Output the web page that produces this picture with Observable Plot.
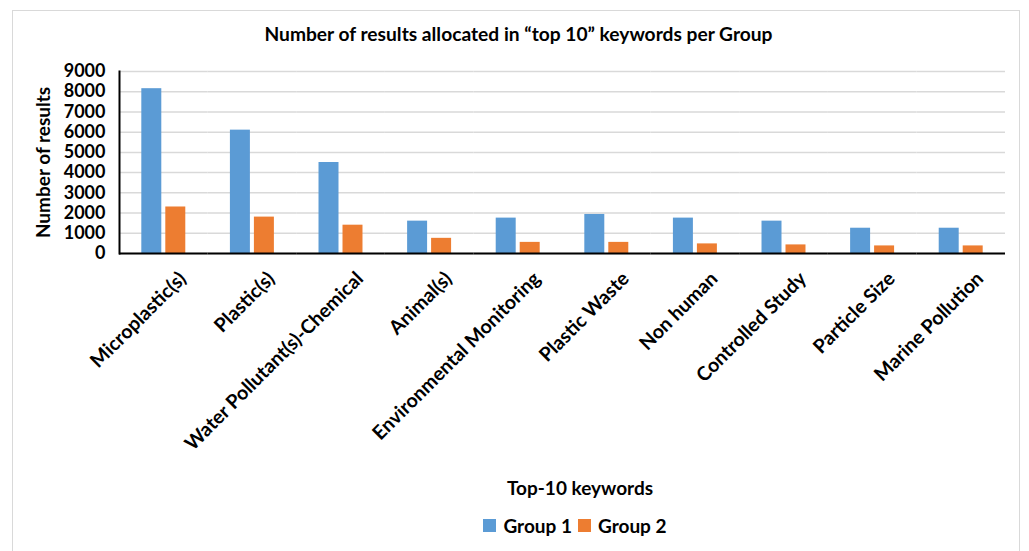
<!DOCTYPE html>
<html>
<head>
<meta charset="utf-8">
<script src="https://cdn.jsdelivr.net/npm/d3@7"></script>
<script src="https://cdn.jsdelivr.net/npm/@observablehq/plot@0.6"></script>
<style>
  html, body { margin: 0; padding: 0; background: #fff; }
  #wrap { position: relative; width: 1029px; height: 551px; overflow: hidden; font-family: Lato, "Open Sans", sans-serif; font-weight: bold; color: #000; }
  #border { position: absolute; left: 12px; top: 10px; width: 1008px; height: 560px; border: 1px solid #d9d9d9; box-sizing: border-box; }
  #title { position: absolute; left: 0; top: 22px; width: 1037px; text-align: center; font-size: 19.2px; line-height: 23px; }
  #chart { position: absolute; left: 0; top: 0; }
  #xlabel { position: absolute; left: 0; top: 476px; width: 1160px; text-align: center; font-size: 19px; line-height: 23px; }
  #legend { position: absolute; left: 0; top: 513px; width: 1150px; text-align: center; font-size: 19px; line-height: 23px; }
  .item { display: inline-flex; align-items: center; margin: 0 3px; }
  .sw { display: inline-block; width: 13px; height: 13px; margin-right: 7px; }
</style>
</head>
<body>
<div id="wrap">
  <div id="border"></div>
  <div id="title"></div>
  <div id="chart"></div>
  <div id="xlabel"></div>
  <div id="legend"></div>
</div>
<script>
const titleText = "Number of results allocated in \u201ctop 10\u201d keywords per Group";
const xTitle = "Top-10 keywords";
const yTitle = "Number of results";
const keywords = ["Microplastic(s)", "Plastic(s)", "Water Pollutant(s)-Chemical", "Animal(s)", "Environmental Monitoring", "Plastic Waste", "Non human", "Controlled Study", "Particle Size", "Marine Pollution"];
const groups = ["Group 1", "Group 2"];
const group1 = [8150, 6100, 4500, 1600, 1750, 1930, 1750, 1600, 1250, 1250];
const group2 = [2300, 1800, 1400, 750, 550, 550, 475, 425, 375, 375];
const colors = ["#5B9BD5", "#ED7D31"];
const yTicks = [0, 1000, 2000, 3000, 4000, 5000, 6000, 7000, 8000, 9000];

const data = keywords.flatMap((k, i) => [
  {keyword: k, group: groups[0], value: group1[i]},
  {keyword: k, group: groups[1], value: group2[i]}
]);

document.getElementById("title").textContent = titleText;
document.getElementById("xlabel").textContent = xTitle;

const chart = Plot.plot({
  width: 1029,
  height: 470,
  marginTop: 71,
  marginBottom: 217,
  marginLeft: 119,
  marginRight: 24,
  style: {fontFamily: "Lato, 'Open Sans', sans-serif", fontWeight: "bold", fontSize: "18px", color: "#000", background: "transparent"},
  fx: {domain: keywords, padding: 0, round: false, label: null},
  x: {domain: groups, paddingInner: 0.167, paddingOuter: 0.93, round: false, axis: null},
  y: {domain: [0, 9000], label: null},
  color: {domain: groups, range: colors},
  marks: [
    Plot.gridY(yTicks, {stroke: "#d9d9d9", strokeOpacity: 1, strokeWidth: 1.5}),
    Plot.barY(data, {fx: "keyword", x: "group", y: "value", fill: "group"}),
    Plot.ruleY([0], {stroke: "#000", strokeWidth: 2}),
    Plot.frame({anchor: "left", facetAnchor: "left", stroke: "#000", strokeWidth: 2}),
    Plot.axisY(yTicks, {tickSize: 0, tickPadding: 14, fontSize: 18, tickFormat: d => String(d), label: yTitle, labelAnchor: "center", labelArrow: "none", labelOffset: 83}),
    Plot.axisFx({anchor: "bottom", tickRotate: -45, tickSize: 0, tickPadding: 22, dx: 19, fontSize: 19.5, label: null})
  ]
});
document.getElementById("chart").appendChild(chart);

// y-axis title size
chart.querySelectorAll("text").forEach(t => { if (t.textContent === yTitle) t.setAttribute("font-size", 19); });

const legend = document.getElementById("legend");
groups.forEach((g, i) => {
  const item = document.createElement("span");
  item.className = "item";
  const sw = document.createElement("span");
  sw.className = "sw";
  sw.style.background = colors[i];
  item.appendChild(sw);
  item.appendChild(document.createTextNode(g));
  legend.appendChild(item);
});
</script>
</body>
</html>
